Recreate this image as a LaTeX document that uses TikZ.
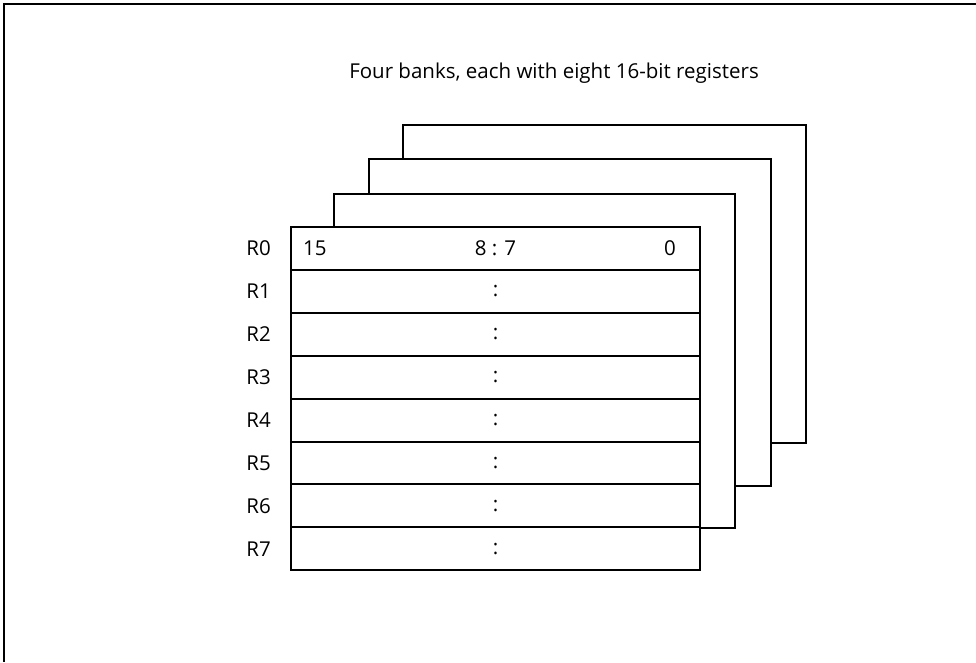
\documentclass[tikz,border=0pt]{standalone}
\usepackage{fontspec}
\setmainfont{Open Sans}
\usetikzlibrary{positioning}

\begin{document}
\begin{tikzpicture}[
    x=1pt, y=-1pt,
    every node/.style={font=\fontsize{20.5}{24}\selectfont, inner sep=0pt},
    frame/.style={line width=2pt},
    bank/.style={draw, fill=white, line width=2pt},
    regrow/.style={draw, fill=white, line width=2pt, minimum width=409pt, minimum height=42.9pt, anchor=north west, outer sep=0pt}
]
\useasboundingbox (0,0) rectangle (976,662);
\draw[frame] (4,662) -- (4,4) -- (976,4);

\node (title) at (554,73) {Four banks, each with eight 16-bit registers};

% the three banks behind
\draw[bank] (403,125) rectangle (806,443);
\draw[bank] (369,159) rectangle (771,486);
\draw[bank] (334,194) rectangle (735,528);

% the front bank
\foreach \i in {0,...,7} {
    \node[regrow] (r\i) at (291,{227+42.9*\i}) {};
    \node[left=20pt of r\i.west] (l\i) {R\i};
}
\foreach \i in {1,...,7}
    \node (d\i) at (r\i.center) {:};

\node[right=12pt of r0.west] (hi) {15};
\node (mid) at (r0.center) {8 : 7};
\node[left=24pt of r0.east] (lo) {0};
\end{tikzpicture}
\end{document}
